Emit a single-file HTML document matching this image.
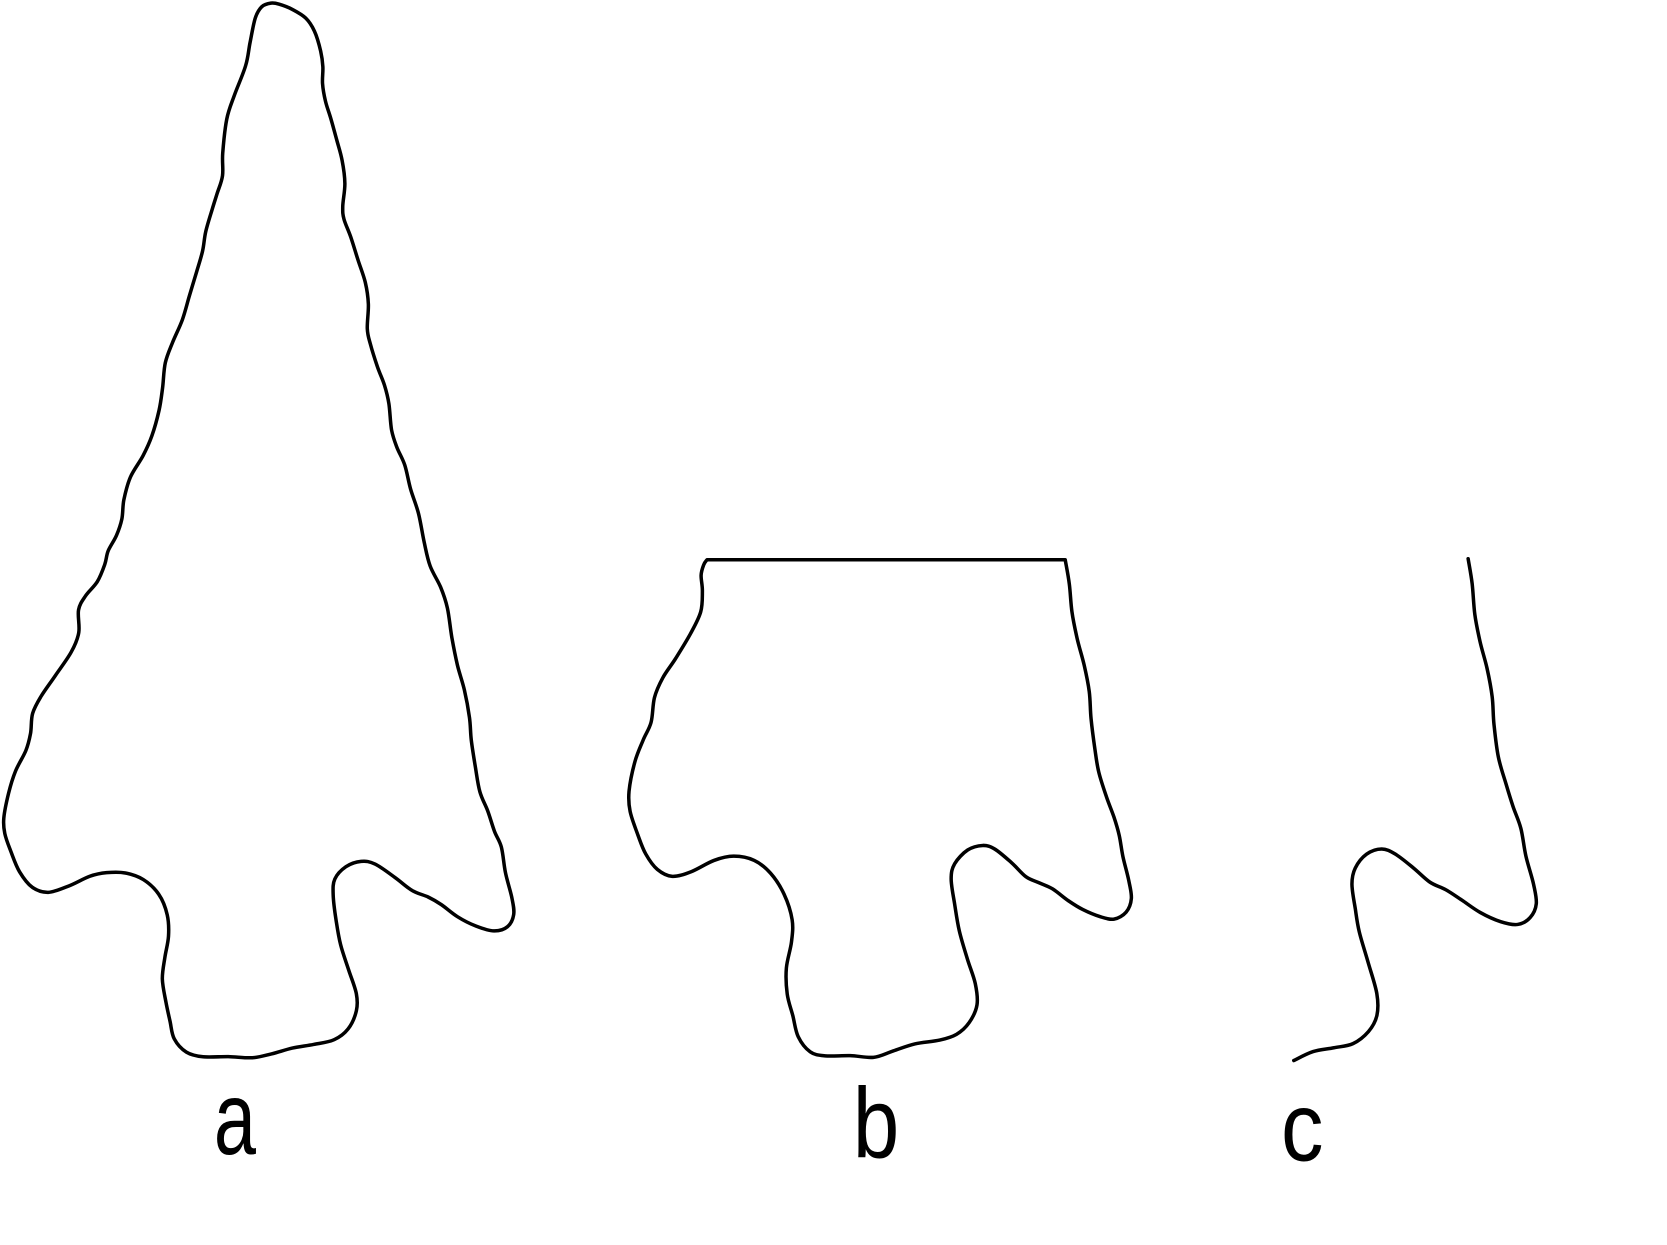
<!DOCTYPE html>
<html lang="en">
<head>
<meta charset="utf-8">
<title>Projectile point outlines</title>
<style>
html,body{margin:0;padding:0;background:#fff;}
svg{display:block;}
text{font-family:"Liberation Sans",sans-serif;fill:#000;text-anchor:middle;}
.outline{fill:none;stroke:#000;stroke-width:3.3;stroke-linecap:round;stroke-linejoin:round;}
</style>
</head>
<body>
<svg id="fig" width="1667" height="1245" viewBox="0 0 1667 1245" xmlns="http://www.w3.org/2000/svg">
  <rect width="1667" height="1245" fill="#fff"/>
  <g id="plot" transform="translate(0,0.6) scale(1.0631)">
    <path id="outline-a" class="outline"/>
    <path id="outline-b" class="outline"/>
    <path id="outline-c" class="outline"/>
    <text transform="translate(221,1085) scale(0.89,1.22)" font-size="80">a</text>
    <text transform="translate(824,1088) scale(0.98,1.18)" font-size="80">b</text>
    <text transform="translate(1225,1091) scale(1,1.15)" font-size="80">c</text>
  </g>
</svg>
<script>
const pointA = [[255,2],[262,3],[275,8],[288,16],[296,28],[302,48],[304,62],[303,78],[306,95],[311,110],[317,132],[322,150],[325,172],[322,195],[323,205],[330,222],[337,245],[344,265],[347,285],[345,310],[348,322],[355,345],[362,362],[366,378],[368,405],[373,420],[381,436],[386,460],[394,482],[399,510],[404,532],[415,552],[421,570],[425,600],[430,625],[437,648],[442,675],[443,695],[447,720],[451,745],[459,762],[465,782],[472,795],[475,820],[482,845],[484,860],[478,872],[465,876],[448,871],[430,862],[415,850],[403,843],[388,838],[372,825],[352,811],[340,809],[325,814],[314,826],[313,840],[316,865],[320,888],[328,912],[336,935],[336,950],[328,968],[315,978],[295,982],[275,985],[255,991],[238,995],[215,993],[190,994],[175,990],[163,977],[160,960],[156,942],[152,920],[155,900],[159,880],[158,860],[150,840],[135,826],[118,820],[100,820],[85,823],[65,833],[45,840],[30,835],[18,820],[10,800],[4,783],[3,770],[8,745],[14,725],[25,705],[29,690],[30,670],[38,655],[52,635],[68,612],[75,595],[73,572],[80,560],[92,547],[99,530],[101,518],[110,503],[115,488],[116,470],[122,448],[135,428],[143,410],[150,385],[153,365],[155,340],[162,322],[172,300],[178,278],[185,255],[191,235],[193,218],[200,195],[204,182],[210,165],[209,145],[213,110],[220,90],[232,60],[235,40],[240,15],[246,5]];
const pointB = [[1002,526],[1006,548],[1008,575],[1013,600],[1020,625],[1025,650],[1026,675],[1030,705],[1033,725],[1041,750],[1048,768],[1053,785],[1056,805],[1062,828],[1065,845],[1060,858],[1048,865],[1035,862],[1018,855],[1005,847],[990,835],[978,830],[965,825],[952,811],[935,797],[925,794],[910,798],[897,812],[894,825],[898,850],[902,875],[910,902],[918,925],[920,945],[912,962],[900,973],[885,978],[860,981],[840,988],[822,995],[800,992],[775,993],[762,990],[750,975],[746,955],[740,935],[739,910],[745,885],[746,865],[738,840],[725,820],[710,808],[690,804],[672,808],[650,820],[632,825],[618,818],[607,803],[600,785],[592,762],[591,745],[597,715],[605,695],[613,680],[615,655],[623,637],[635,620],[650,595],[660,575],[661,555],[659,540],[662,530],[665,526]];
const pointC = [[1381,525],[1385,548],[1387,578],[1392,603],[1399,628],[1404,655],[1405,680],[1409,712],[1417,738],[1423,758],[1431,778],[1435,805],[1443,832],[1446,850],[1440,863],[1428,870],[1412,867],[1392,858],[1375,846],[1360,836],[1345,830],[1330,816],[1312,802],[1300,797],[1285,802],[1274,816],[1271,830],[1275,855],[1278,875],[1287,905],[1296,935],[1296,955],[1288,970],[1273,982],[1255,985],[1235,988],[1217,997]];

function at(p, i, closed) {
  const n = p.length;
  if (closed) return p[(i + n) % n];
  return p[Math.max(0, Math.min(n - 1, i))];
}
function relax(p, closed) {
  return p.map(function (pt, i) {
    if (!closed && (i === 0 || i === p.length - 1)) return pt;
    const a = at(p, i - 1, closed), b = at(p, i + 1, closed);
    return [0.1 * a[0] + 0.8 * pt[0] + 0.1 * b[0], 0.1 * a[1] + 0.8 * pt[1] + 0.1 * b[1]];
  });
}
function smooth(raw, closed) {
  const p = relax(raw, closed);
  let d = 'M' + p[0][0].toFixed(1) + ',' + p[0][1].toFixed(1);
  const segs = closed ? p.length : p.length - 1;
  for (let i = 0; i < segs; i++) {
    const p0 = at(p, i - 1, closed), p1 = at(p, i, closed), p2 = at(p, i + 1, closed), p3 = at(p, i + 2, closed);
    const c1x = p1[0] + (p2[0] - p0[0]) / 6, c1y = p1[1] + (p2[1] - p0[1]) / 6;
    const c2x = p2[0] - (p3[0] - p1[0]) / 6, c2y = p2[1] - (p3[1] - p1[1]) / 6;
    d += 'C' + c1x.toFixed(1) + ',' + c1y.toFixed(1) + ' ' + c2x.toFixed(1) + ',' + c2y.toFixed(1) + ' ' + p2[0].toFixed(1) + ',' + p2[1].toFixed(1);
  }
  return closed ? d + 'Z' : d;
}
document.getElementById('outline-a').setAttribute('d', smooth(pointA, true));
document.getElementById('outline-b').setAttribute('d', smooth(pointB, false) + 'Z');
document.getElementById('outline-c').setAttribute('d', smooth(pointC, false));
</script>
</body>
</html>
